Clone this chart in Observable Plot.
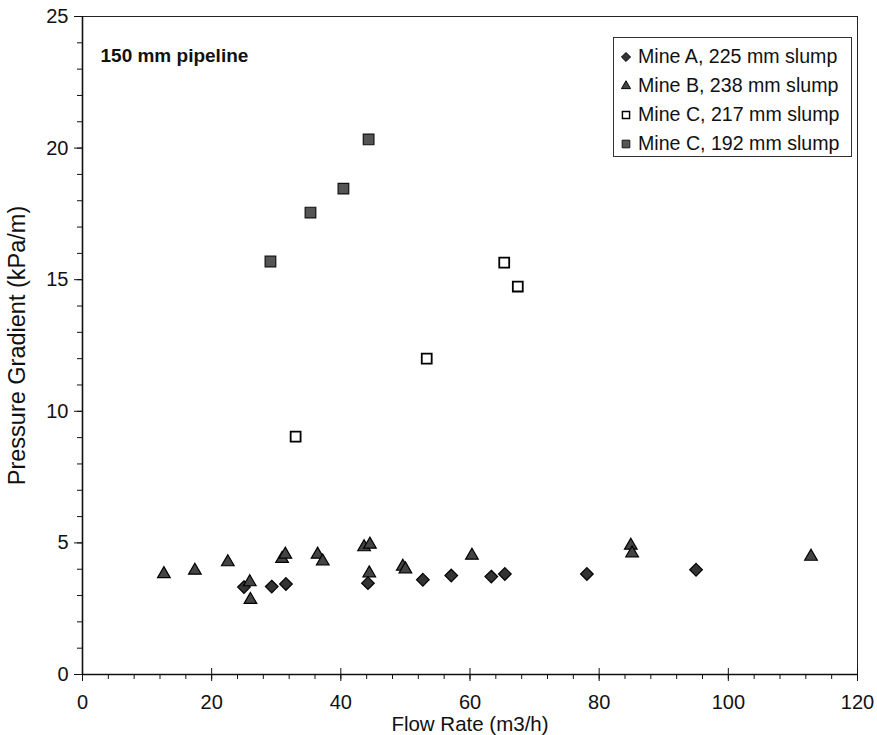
<!DOCTYPE html>
<html>
<head>
<meta charset="utf-8">
<script src="https://cdn.jsdelivr.net/npm/d3@7"></script>
<script src="https://cdn.jsdelivr.net/npm/@observablehq/plot@0.6"></script>
<style>
  html, body { margin: 0; padding: 0; background: #fff; }
  #wrap { position: relative; width: 877px; height: 735px; font-family: "Liberation Sans", Arial, sans-serif; }
  #legend { position: absolute; left: 613px; top: 37px; width: 239px; height: 120px; border: 1px solid #333; background: #fff; box-sizing: border-box; padding-top: 4px; }
  .row { display: flex; align-items: center; height: 29px; font-size: 19.6px; color: #111; padding-left: 4px; white-space: nowrap; }
  .row svg { margin-right: 4px; }
</style>
</head>
<body>
<div id="wrap"></div>
<script>
// ---- data ----
const title = "150 mm pipeline";
const xLabel = "Flow Rate (m3/h)";
const yLabel = "Pressure Gradient (kPa/m)";
const xTicks = [0, 20, 40, 60, 80, 100, 120];
const yTicks = [0, 5, 10, 15, 20, 25];
const seriesNames = ["Mine A, 225 mm slump", "Mine B, 238 mm slump", "Mine C, 217 mm slump", "Mine C, 192 mm slump"];

const mineA_x = [25.0, 29.3, 31.5, 44.2, 52.7, 57.1, 63.3, 65.4, 78.1, 95.0];
const mineA_y = [3.32, 3.34, 3.44, 3.47, 3.60, 3.76, 3.72, 3.82, 3.82, 3.98];

const mineB_x = [12.6, 17.4, 22.5, 25.9, 26.0, 30.9, 31.4, 36.4, 37.2, 43.6, 44.5, 44.4, 49.6, 50.0, 60.3, 84.9, 85.1, 112.8];
const mineB_y = [3.82, 3.95, 4.27, 3.51, 2.84, 4.40, 4.56, 4.56, 4.30, 4.84, 4.94, 3.85, 4.10, 4.00, 4.52, 4.90, 4.61, 4.48];

const mineC217_x = [33.0, 53.3, 65.3, 67.4];
const mineC217_y = [9.04, 12.0, 15.65, 14.74];

const mineC192_x = [29.1, 35.3, 40.4, 44.3];
const mineC192_y = [15.69, 17.55, 18.46, 20.33];

// ---- build ----
const toPts = (xs, ys) => xs.map((x, i) => ({x, y: ys[i]}));
const A = toPts(mineA_x, mineA_y);
const B = toPts(mineB_x, mineB_y);
const C1 = toPts(mineC217_x, mineC217_y);
const C2 = toPts(mineC192_x, mineC192_y);

const styles = [
  {symbol: "diamond2", fill: "#333", stroke: "#000", strokeWidth: 1.2, r: 5.7},
  {symbol: "triangle", fill: "#444", stroke: "#000", strokeWidth: 1.2, r: 4.7},
  {symbol: "square", fill: "#fff", stroke: "#000", strokeWidth: 1.8, r: 5.6},
  {symbol: "square", fill: "#555", stroke: "#111", strokeWidth: 1.2, r: 6.0}
];

const blank = () => "";
const chart = Plot.plot({
  width: 877,
  height: 735,
  marginLeft: 82,
  marginRight: 20,
  marginTop: 16,
  marginBottom: 61,
  style: {fontFamily: "'Liberation Sans', Arial, sans-serif", fontSize: "20px", color: "#111", background: "#fff"},
  x: {domain: [0, 120]},
  y: {domain: [0, 25]},
  marks: [
    Plot.frame({stroke: "#222", strokeWidth: 1}),
    Plot.ruleX([0], {stroke: "#111", strokeWidth: 1.6}),
    Plot.ruleY([0], {stroke: "#111", strokeWidth: 1.6}),
    // minor ticks
    Plot.axisX({ticks: d3.range(0, 121, 4), tickSize: 5, tickFormat: blank, label: null}),
    Plot.axisY({ticks: d3.range(0, 26, 1), tickSize: 5, tickFormat: blank, label: null}),
    // major ticks
    Plot.axisX({ticks: xTicks, tickSize: 7, tickFormat: blank, label: null}),
    Plot.axisX({ticks: xTicks, anchor: "bottom", tickSize: -6, tickFormat: blank, label: null}),
    Plot.axisY({ticks: yTicks, tickSize: 8, tickFormat: blank, label: null}),
    // tick labels + axis titles
    Plot.axisX({ticks: xTicks, tickSize: 0, tickPadding: 20, fontSize: 20, label: null}),
    Plot.axisX({ticks: [], tickSize: 0, fontSize: 20.5, label: xLabel, labelAnchor: "center", labelOffset: 56, labelArrow: "none", dx: -4}),
    Plot.axisY({ticks: yTicks, tickSize: 0, tickPadding: 14, fontSize: 20, label: null}),
    Plot.axisY({ticks: [], tickSize: 0, fontSize: 23.5, label: yLabel, labelAnchor: "center", labelOffset: 74, labelArrow: "none", dy: -8}),
    // title
    Plot.text([title], {frameAnchor: "top-left", dx: 18, dy: 32, text: d => d, fontWeight: "bold", fontSize: 19, textAnchor: "start", fill: "#111"}),
    // data
    Plot.dot(A, {x: "x", y: "y", ...styles[0]}),
    Plot.dot(B, {x: "x", y: "y", ...styles[1]}),
    Plot.dot(C1, {x: "x", y: "y", ...styles[2]}),
    Plot.dot(C2, {x: "x", y: "y", ...styles[3]})
  ]
});

const wrap = document.getElementById("wrap");
wrap.appendChild(chart);

// legend
const legend = document.createElement("div");
legend.id = "legend";
const symMap = {diamond2: d3.symbolDiamond2, triangle: d3.symbolTriangle, square: d3.symbolSquare};
seriesNames.forEach((name, i) => {
  const s = styles[i];
  const row = document.createElement("div");
  row.className = "row";
  const sv = d3.create("svg").attr("width", 16).attr("height", 16);
  sv.append("path")
    .attr("transform", "translate(8,8)")
    .attr("d", d3.symbol(symMap[s.symbol], Math.PI * (s.r * 0.72) ** 2)())
    .attr("fill", s.fill).attr("stroke", s.stroke).attr("stroke-width", s.strokeWidth * 0.8);
  row.appendChild(sv.node());
  const t = document.createElement("span");
  t.textContent = name;
  row.appendChild(t);
  legend.appendChild(row);
});
wrap.appendChild(legend);
</script>
</body>
</html>
